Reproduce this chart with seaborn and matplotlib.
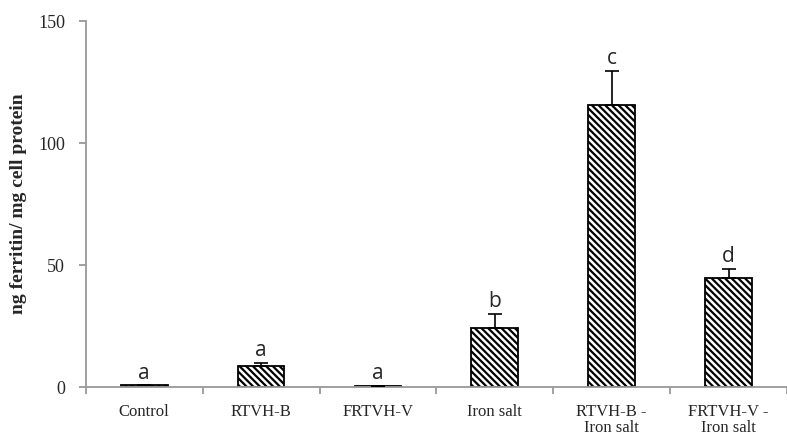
import numpy as np
import pandas as pd
import seaborn as sns
import matplotlib.pyplot as plt

# Datos
groups = ['Control', 'RTVH-B', 'FRTVH-V', 'Iron salt', 'RTVH-B -\nIron salt', 'FRTVH-V -\nIron salt']
ferritin = [0.7, 8.6, 0.5, 24.2, 115.6, 44.7]
sd = [0.0, 1.2, 0.0, 5.8, 14.0, 3.7]
letters = ['a', 'a', 'a', 'b', 'c', 'd']

df = pd.DataFrame({'group': groups, 'ferritin': ferritin, 'sd': sd})

sns.set_style('white')
plt.rcParams['hatch.linewidth'] = 1.6
plt.rcParams['hatch.color'] = 'black'

fig = plt.figure(figsize=(7.87, 4.41), dpi=100)
ax = fig.add_axes([0.109, 0.122, 0.891, 0.83])

sns.barplot(data=df, x='group', y='ferritin', color='white', width=0.4,
            edgecolor='black', linewidth=1.3, hatch='\\\\\\\\\\', errorbar=None, ax=ax)

x = np.arange(len(groups))
ax.errorbar(x, df['ferritin'], yerr=[np.zeros(len(sd)), df['sd']], fmt='none',
            ecolor='black', elinewidth=1.2, capsize=5, capthick=1.2, zorder=3)

for xi, v, e, l in zip(x, ferritin, sd, letters):
    ax.text(xi, v + e + 0.8, l, ha='center', va='bottom', fontsize=15, family='Open Sans')

ax.set_ylim(0, 150)
ax.set_xlim(-0.5, len(groups) - 0.5)
ax.set_yticks([0, 50, 100, 150])
ax.set_yticklabels(['0', '50', '100', '150'], family='Liberation Serif', fontsize=13)
ax.set_xticks(x)
ax.set_xticklabels(groups, family='Liberation Serif', fontsize=12, linespacing=1.05)
ax.set_xticks(np.arange(-0.5, len(groups), 1.0), minor=True)
ax.tick_params(axis='x', which='major', bottom=False, length=0, pad=12)
ax.tick_params(axis='x', which='minor', bottom=True, length=5, color='#999999', width=1.3, direction='out')
ax.tick_params(axis='y', left=True, length=5, color='#999999', width=1.3, direction='out', pad=10)

ax.set_xlabel('')
ax.set_ylabel('ng ferritin/ mg cell protein', family='Liberation Serif', fontsize=14,
              fontweight='bold', labelpad=8)

for s in ['top', 'right']:
    ax.spines[s].set_visible(False)
for s in ['left', 'bottom']:
    ax.spines[s].set_color('#999999')
    ax.spines[s].set_linewidth(1.3)

fig.savefig('out.png', dpi=100)
